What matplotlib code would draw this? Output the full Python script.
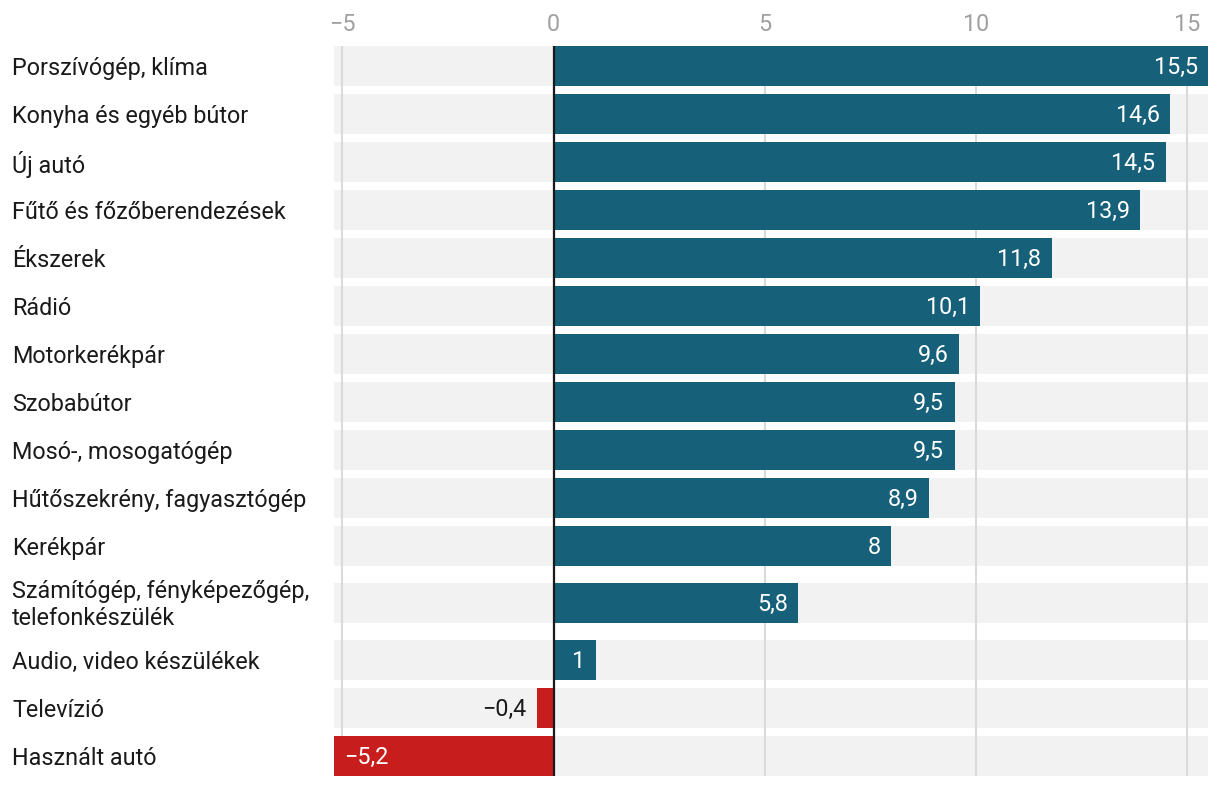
import matplotlib
matplotlib.use("Agg")
import matplotlib.pyplot as plt
import matplotlib.transforms as mtransforms
import numpy as np

plt.rcParams['font.family'] = ['Roboto', 'DejaVu Sans']

categories = [
    "Porszívógép, klíma",
    "Konyha és egyéb bútor",
    "Új autó",
    "Fűtő és főzőberendezések",
    "Ékszerek",
    "Rádió",
    "Motorkerékpár",
    "Szobabútor",
    "Mosó-, mosogatógép",
    "Hűtőszekrény, fagyasztógép",
    "Kerékpár",
    "Számítógép, fényképezőgép,\ntelefonkészülék",
    "Audio, video készülékek",
    "Televízió",
    "Használt autó",
]
values = [15.5, 14.6, 14.5, 13.9, 11.8, 10.1, 9.6, 9.5, 9.5, 8.9, 8, 5.8, 1, -0.4, -5.2]
xticks = [-5, 0, 5, 10, 15]

BLUE = "#17607a"
RED = "#c71e1d"
BAND = "#f2f2f2"
GRID = "#dadada"
FS = 16.8

# row heights: two-line labels get a taller row
heights = np.array([1 + 0.375 * (c.count("\n")) for c in categories])
centers = np.cumsum(heights) - heights / 2
bar_h = 40 / 48

fig = plt.figure(figsize=(12.2, 7.86), dpi=100)
ax = fig.add_axes([334 / 1220, 1 - 776 / 786, (1208 - 334) / 1220, (776 - 46) / 786])

xmin, xmax = -5.2, 15.5
ax.set_xlim(xmin, xmax)
ax.set_ylim(centers[-1] + bar_h / 2, centers[0] - bar_h / 2)

# grey background bands
ax.barh(centers, xmax - xmin, left=xmin, height=bar_h, color=BAND, zorder=0)
for t in xticks:
    ax.axvline(t, color=GRID, lw=1.5, zorder=1)

colors = [BLUE if v >= 0 else RED for v in values]
ax.barh(centers, values, height=bar_h, color=colors, zorder=2)
ax.axvline(0, color="#1a1a1a", lw=1.6, zorder=3)

for y, v in zip(centers, values):
    lab = f"{v:g}".replace(".", ",").replace("-", "\u2212")
    if v >= 0:
        ax.annotate(lab, (v, y), xytext=(-7.5, -1), textcoords="offset points",
                    ha="right", va="center", color="white", fontsize=FS, zorder=4)
    elif abs(v) < 1:
        ax.annotate(lab, (v, y), xytext=(-7.5, -1), textcoords="offset points",
                    ha="right", va="center", color="#1a1a1a", fontsize=FS, zorder=4)
    else:
        ax.annotate(lab, (v, y), xytext=(7.5, -1), textcoords="offset points",
                    ha="left", va="center", color="white", fontsize=FS, zorder=4)

trans = mtransforms.blended_transform_factory(fig.transFigure, ax.transData)
trans = mtransforms.offset_copy(trans, fig=fig, x=0, y=-1.5, units="points")
for y, c in zip(centers, categories):
    fig.text(12 / 1220, y, c, transform=trans, ha="left", va="center",
             fontsize=FS, color="#1a1a1a", linespacing=1.2)

ax.set_xticks(xticks)
ax.set_xticklabels([str(t).replace("-", "\u2212") for t in xticks])
ax.xaxis.tick_top()
ax.tick_params(axis="x", length=0, pad=7.5, labelsize=FS, labelcolor="#a0a0a0")
ax.set_yticks([])
for s in ax.spines.values():
    s.set_visible(False)

fig.savefig("out.png", dpi=100)
